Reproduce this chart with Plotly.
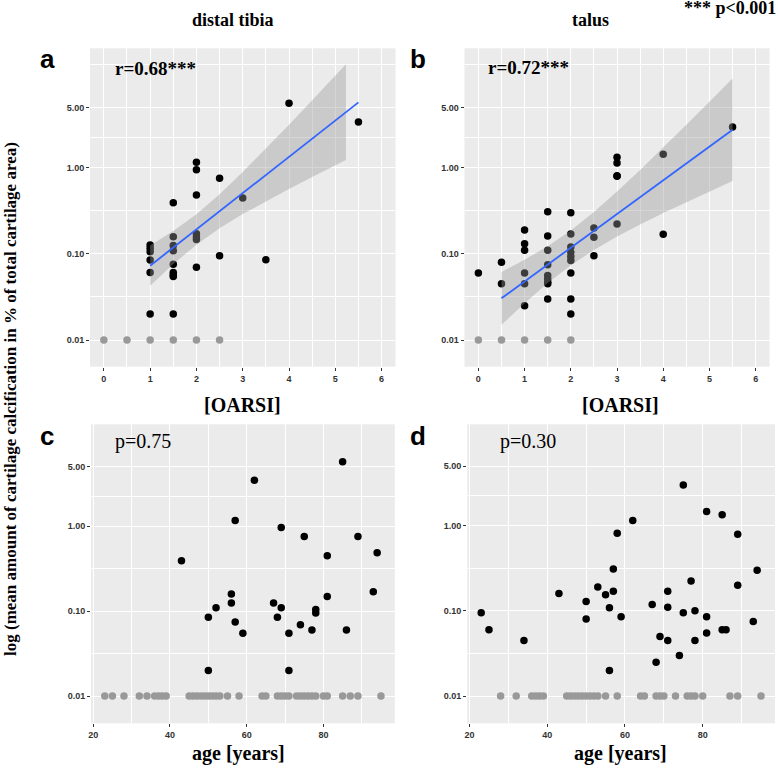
import plotly.graph_objects as go

# ---- panel a: distal tibia vs OARSI grade ----
a_x = [1, 1, 1, 1, 1, 1,
       1.5, 1.5, 1.5, 1.5, 1.5, 1.5, 1.5, 1.5, 1.5,
       2, 2, 2, 2, 2, 2, 2,
       2.5, 2.5, 3, 3.5, 4, 5.5]
a_y = [0.127, 0.116, 0.106, 0.085, 0.061, 0.020,
       0.394, 0.158, 0.125, 0.109, 0.0757, 0.061, 0.057, 0.0547, 0.020,
       1.16, 0.95, 0.483, 0.172, 0.158, 0.147, 0.070,
       0.755, 0.095, 0.446, 0.0857, 5.61, 3.40]
a_zero_x = [0, 0.5, 1, 1.5, 2, 2.5]

# fitted line and confidence band
a_fit_x = [1, 5.5]
a_fit_y = [0.073, 5.75]
a_band_x = [1, 1.5, 2, 2.5, 3, 3.5, 4, 4.5, 5, 5.23]
a_band_hi = [0.125, 0.184, 0.289, 0.492, 0.891, 1.67, 3.16, 6.07, 11.7, 15.9]
a_band_lo = [0.0427, 0.0764, 0.128, 0.199, 0.290, 0.409, 0.568, 0.782, 1.07, 1.23]

# ---- panel b: talus vs OARSI grade ----
b_x = [0, 0.5, 0.5,
       1, 1, 1, 1, 1, 1,
       1.5, 1.5, 1.5, 1.5, 1.5, 1.5, 1.5, 1.5, 1.5,
       2, 2, 2, 2, 2, 2, 2, 2, 2,
       2.5, 2.5, 2.5, 3, 3, 3, 3, 3, 4, 4, 5.5]
b_y = [0.060, 0.080, 0.045,
       0.19, 0.131, 0.11, 0.06, 0.045, 0.025,
       0.308, 0.161, 0.11, 0.075, 0.056, 0.051, 0.047, 0.045, 0.030,
       0.30, 0.17, 0.12, 0.104, 0.093, 0.084, 0.06, 0.03, 0.02,
       0.20, 0.156, 0.095, 1.33, 1.14, 0.81, 0.80, 0.223, 1.44, 0.169, 2.97]
b_zero_x = [0, 0.5, 1, 1.5, 2]

b_fit_x = [0.5, 5.5]
b_fit_y = [0.0305, 2.77]
b_band_x = [0.5, 1, 1.5, 2, 2.5, 3, 3.5, 4, 4.5, 5, 5.5]
b_band_hi = [0.0618, 0.0857, 0.123, 0.1875, 0.307, 0.53, 0.946, 1.72, 3.16, 5.86, 10.9]
b_band_lo = [0.0150, 0.0267, 0.0458, 0.074, 0.111, 0.159, 0.22, 0.298, 0.398, 0.53, 0.703]

# ---- panel c: distal tibia vs age ----
c_age = [43, 50, 50, 52, 56, 56, 57, 57, 59, 62, 67, 68, 69, 69,
         71, 71, 74, 75, 77, 78, 78, 81, 81, 85, 86, 89, 93, 94]
c_y = [0.392, 0.0848, 0.020, 0.11, 0.159, 0.125, 1.17, 0.0747, 0.055, 3.47,
       0.125, 0.0848, 0.964, 0.11, 0.055, 0.020, 0.0694, 0.757, 0.060, 0.105,
       0.095, 0.449, 0.149, 5.74, 0.060, 0.757, 0.169, 0.486]
c_zero_age = [23, 25, 28, 32, 34, 36, 37, 38, 39, 45, 46, 47, 48, 49, 50, 51,
              52, 53, 55, 58, 64, 65, 68, 69, 70, 71, 73, 74, 75, 76, 77, 78,
              80, 81, 85, 87, 89, 95]

# ---- panel d: talus vs age ----
d_age = [23, 25, 34, 43, 50, 50, 53, 55, 56, 56, 57, 57, 58, 59, 62, 67, 68,
         69, 71, 71, 71, 74, 75, 75, 77, 78, 78, 81, 81, 81, 85, 85, 86, 89,
         89, 93, 94]
d_y = [0.095, 0.060, 0.045, 0.160, 0.129, 0.080, 0.19, 0.155, 0.109, 0.020,
       0.309, 0.17, 0.815, 0.085, 1.15, 0.119, 0.025, 0.050, 0.17, 0.110,
       0.045, 0.030, 3.01, 0.095, 0.224, 0.10, 0.045, 1.47, 0.085, 0.055,
       1.34, 0.060, 0.060, 0.794, 0.20, 0.075, 0.30]
d_zero_age = [28, 32, 36, 37, 38, 39, 45, 46, 47, 48, 49, 50, 51, 52, 53, 55,
              58, 64, 65, 68, 69, 70, 73, 76, 77, 78, 80, 87, 89, 95]

ZERO = 0.01  # specimens without calcification are drawn at 0.01

y_ticks = [0.01, 0.1, 1, 5]
y_ticktext = ["0.01", "0.10", "1.00", "5.00"]
y_minor = [0.0316, 0.316, 2.24, 15.8]
oarsi_ticks = [0, 1, 2, 3, 4, 5, 6]
oarsi_minor = [0.5, 1.5, 2.5, 3.5, 4.5, 5.5]
age_ticks = [20, 40, 60, 80]
age_minor = [30, 50, 70, 90]

W, H = 778, 769
SERIF = "Liberation Serif"
SANS = "Liberation Sans"
BAND = "rgba(153,153,153,0.4)"

fig = go.Figure()


def pts(x, y, color, xa, ya):
    fig.add_trace(go.Scatter(x=x, y=y, mode="markers", xaxis=xa, yaxis=ya,
                             marker=dict(color=color, size=7.5, line=dict(width=0)),
                             showlegend=False, hoverinfo="skip"))


def smooth(bx, hi, lo, fx, fy, xa, ya):
    fig.add_trace(go.Scatter(x=bx + bx[::-1], y=hi + lo[::-1], xaxis=xa, yaxis=ya,
                             fill="toself", fillcolor=BAND, mode="lines",
                             line=dict(width=0), showlegend=False, hoverinfo="skip"))
    fig.add_trace(go.Scatter(x=fx, y=fy, xaxis=xa, yaxis=ya, mode="lines",
                             line=dict(color="#3366FF", width=1.8),
                             showlegend=False, hoverinfo="skip"))


pts(a_zero_x, [ZERO] * len(a_zero_x), "#999999", "x", "y")
pts(a_x, a_y, "black", "x", "y")
smooth(a_band_x, a_band_hi, a_band_lo, a_fit_x, a_fit_y, "x", "y")

pts(b_zero_x, [ZERO] * len(b_zero_x), "#999999", "x2", "y2")
pts(b_x, b_y, "black", "x2", "y2")
smooth(b_band_x, b_band_hi, b_band_lo, b_fit_x, b_fit_y, "x2", "y2")

pts(c_zero_age, [ZERO] * len(c_zero_age), "#999999", "x3", "y3")
pts(c_age, c_y, "black", "x3", "y3")

pts(d_zero_age, [ZERO] * len(d_zero_age), "#999999", "x4", "y4")
pts(d_age, d_y, "black", "x4", "y4")

tick_font = dict(family=SANS, size=9, color="#333333", weight="bold")
base = dict(showgrid=True, gridcolor="white", gridwidth=1.1, zeroline=False,
            showline=False, ticks="outside", ticklen=3, tickwidth=1,
            tickcolor="#333333", tickfont=tick_font)


def xdom(l, r):
    return [l / W, r / W]


def ydom(t, b):
    return [1 - b / H, 1 - t / H]


def xax(dom, rng, ticks, minor, anchor):
    return dict(base, domain=dom, range=rng, tickmode="array", tickvals=ticks,
                minor=dict(tickmode="array", tickvals=minor, showgrid=True,
                           gridcolor="white", gridwidth=0.55, ticks=""),
                anchor=anchor)


def yax(dom, rng, anchor):
    return dict(base, type="log", domain=dom, range=rng, tickmode="array",
                tickvals=y_ticks, ticktext=y_ticktext,
                minor=dict(tickmode="array", tickvals=y_minor, showgrid=True,
                           gridcolor="white", gridwidth=0.55, ticks=""),
                anchor=anchor)


fig.update_layout(
    width=W, height=H, autosize=False,
    margin=dict(l=0, r=0, t=0, b=0),
    paper_bgcolor="white", plot_bgcolor="#EBEBEB",
    xaxis=xax(xdom(87.3, 394), [-0.3, 6.3], oarsi_ticks, oarsi_minor, "y"),
    yaxis=yax(ydom(48.3, 366.7), [-2.31, 1.388], "x"),
    xaxis2=xax(xdom(463.3, 769.5), [-0.3, 6.3], oarsi_ticks, oarsi_minor, "y2"),
    yaxis2=yax(ydom(48.3, 366.7), [-2.31, 1.388], "x2"),
    xaxis3=xax(xdom(88.3, 393.3), [19.4, 98.6], age_ticks, age_minor, "y3"),
    yaxis3=yax(ydom(424.3, 723.3), [-2.32, 1.2], "x3"),
    xaxis4=xax(xdom(466, 775), [19.4, 98.6], age_ticks, age_minor, "y4"),
    yaxis4=yax(ydom(424.3, 723.3), [-2.32, 1.19], "x4"),
)

ann = []


def txt(text, x, y, size, family=SERIF, bold=True, xanchor="center",
        xref="paper", yref="paper", angle=0):
    ann.append(dict(text=text, x=x, y=y, xref=xref, yref=yref, showarrow=False,
                    xanchor=xanchor, yanchor="middle", textangle=angle,
                    font=dict(family=family, size=size, color="black",
                              weight="bold" if bold else "normal")))


# column titles
txt("distal tibia", 231 / W, 1 - 19.6 / H, 18)
txt("talus", 590 / W, 1 - 19.6 / H, 18)
txt("*** p<0.001", 1.0, 1 - 8 / H, 18, xanchor="right")

# panel letters
txt("a", 35 / W, 1 - 59 / H, 26, family=SANS, xanchor="left")
txt("b", 406.7 / W, 1 - 59 / H, 26, family=SANS, xanchor="left")
txt("c", 35 / W, 1 - 436 / H, 26, family=SANS, xanchor="left")
txt("d", 406.7 / W, 1 - 436 / H, 26, family=SANS, xanchor="left")

# statistics inside panels
txt("r=0.68***", 0.074, 0.935, 19, xanchor="left", xref="x domain", yref="y domain")
txt("r=0.72***", 0.071, 0.940, 19, xanchor="left", xref="x2 domain", yref="y2 domain")
txt("p=0.75", 0.071, 0.941, 20, bold=False, xanchor="left", xref="x3 domain", yref="y3 domain")
txt("p=0.30", 0.100, 0.941, 20, bold=False, xanchor="left", xref="x4 domain", yref="y4 domain")

# axis titles
txt("[OARSI]", 240.5 / W, 1 - 404.7 / H, 20)
txt("[OARSI]", 620 / W, 1 - 404.7 / H, 20)
txt("age [years]", 236 / W, 1 - 753 / H, 20)
txt("age [years]", 620 / W, 1 - 753 / H, 20)
txt("log (mean amount of cartilage calcification in % of total cartilage area)",
    8 / W, 1 - 399 / H, 17, angle=-90)

fig.update_layout(annotations=ann)

# drop the default page margin so the figure sits at the window's top-left corner
fig.write_html("out.html", config={"displayModeBar": False},
               post_script="document.body.style.margin='0';")
